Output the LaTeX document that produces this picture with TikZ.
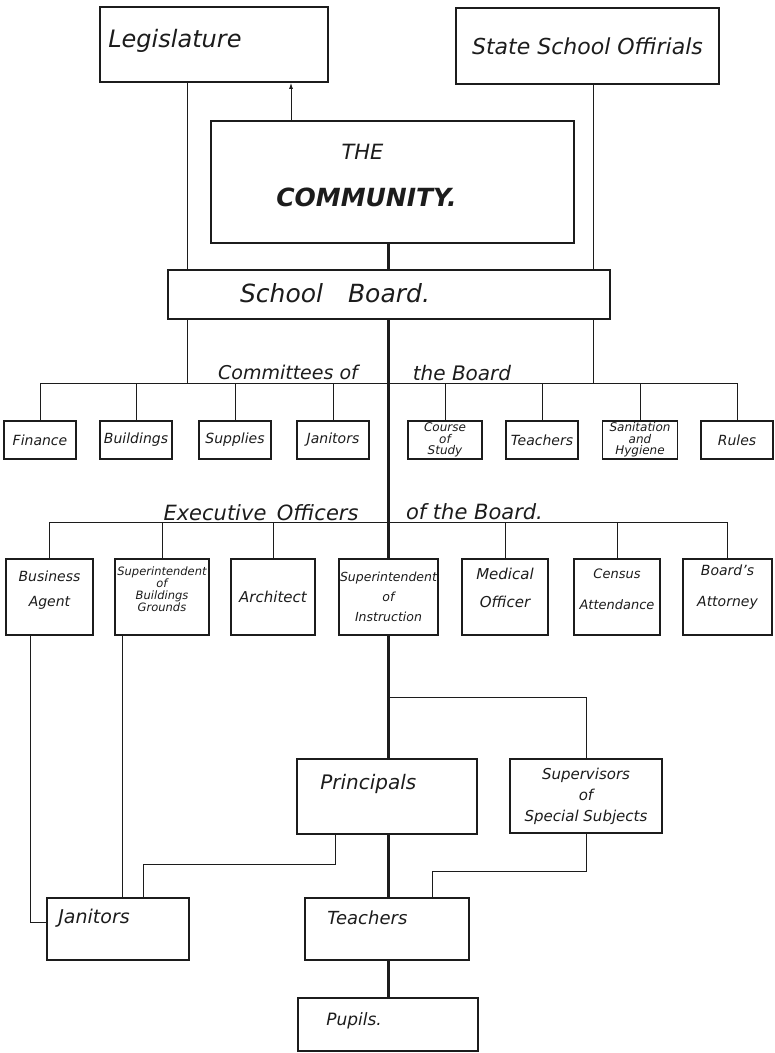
\documentclass[tikz,border=0pt]{standalone}
\usepackage{fontspec}
\setmainfont{DejaVu Sans}
\usetikzlibrary{positioning,arrows.meta,calc}
\definecolor{cInk}{HTML}{1C1C1C}
\newcommand{\hsz}[2]{\fontsize{#1}{#2}\selectfont}
\tikzset{
  base/.style ={draw=cInk, line width=1.7pt, inner sep=0pt, text=cInk},
  hand/.style ={font=\itshape, text=cInk, inner sep=0pt, align=center},
  cmt/.style  ={hand, font=\itshape\hsz{14}{16}},
  cmt3/.style ={hand, font=\itshape\hsz{12}{11.5}},
  wire/.style ={draw=cInk, line width=0.9pt},
  trunk/.style={draw=cInk, line width=2.5pt},
  arr/.style  ={wire, -{Latex[length=6pt,width=4pt]}},
}

\begin{document}
\begin{tikzpicture}[x=1pt, y=-1pt]
\useasboundingbox (0,0) rectangle (775,1053);

% state level and community
\node[base, minimum width=228pt, minimum height=75pt] (leg) at (214,44.5) {};
\node[hand, font=\itshape\hsz{24}{26}, anchor=west] (legt) at ([xshift=9pt, yshift=4pt]leg.west) {Legislature};
\node[base, hand, font=\itshape\hsz{22}{24}, minimum width=263pt, minimum height=76pt] (sso) at (587.5,46) {State School Offirials};
\node[base, minimum width=363pt, minimum height=122pt] (comm) at (392.5,182) {};
\node[hand, font=\itshape\hsz{21}{23}] (the) at ([xshift=-30pt, yshift=30pt]comm.center) {THE};
\node[hand, font=\bfseries\itshape\hsz{25}{27}] (commt) at ([xshift=-26pt, yshift=-15pt]comm.center) {COMMUNITY.};
\node[base, minimum width=442pt, minimum height=49pt] (sb) at (389,294.5) {};
\node[hand, font=\itshape\hsz{25}{27}] (sbt) at ([xshift=-54pt, yshift=1pt]sb.center) {School\quad Board.};

% bus lines
\coordinate (tx) at (388.5,0);
\coordinate (legdn) at (187,0);
\coordinate (legup) at (291,0);
\coordinate (ssodn) at (593,0);
\coordinate (cbus) at (0,383);
\coordinate (ebus) at (0,522);

% committees of the board
\node[hand, font=\itshape\hsz{19}{21}] (cmtl) at (288,372) {Committees of};
\node[hand, font=\itshape\hsz{20}{22}] (cmtr) at (462,373) {the Board};
\foreach \nm/\cx/\txt in {fin/40/Finance, bld/136/Buildings, sup/235/Supplies,
    jan/333/Janitors, tea/542/Teachers, rul/737/Rules}
  \node[base, cmt, minimum width=72pt, minimum height=38pt] (\nm) at (\cx,440) {\txt};
\node[base, cmt3, minimum width=74pt, minimum height=38pt] (cos) at (445,440) {Course\\of\\Study};
\node[base, cmt3, minimum width=75pt, minimum height=38pt] (san) at (640,440) {Sanitation\\and\\Hygiene};

% executive officers
\node[hand, font=\itshape\hsz{21}{23}] (exl) at (261,513) {Executive\enspace Officers};
\node[hand, font=\itshape\hsz{21}{23}] (exr) at (474.5,512) {of the Board.};
\node[base, minimum width=87pt, minimum height=76pt] (bag) at (49.5,597) {};
\node[hand, font=\itshape\hsz{14}{25}] (bagt) at ([yshift=7pt]bag.center) {Business\\Agent};
\node[base, minimum width=94pt, minimum height=76pt] (sbg) at (162,597) {};
\node[hand, font=\itshape\hsz{11.5}{12}] (sbgt) at ([yshift=7.5pt]sbg.center) {Superintendent\\of\\Buildings\\Grounds};
\node[base, hand, font=\itshape\hsz{15}{17}, minimum width=84pt, minimum height=76pt] (arc) at (273,597) {Architect};
\node[base, hand, font=\itshape\hsz{12.5}{20}, minimum width=99pt, minimum height=76pt] (sin) at (388.5,597) {Superintendent\\of\\Instruction};
\node[base, minimum width=86pt, minimum height=76pt] (med) at (505,597) {};
\node[hand, font=\itshape\hsz{15}{28}] (medt) at ([yshift=9pt]med.center) {Medical\\Officer};
\node[base, minimum width=86pt, minimum height=76pt] (cen) at (617,597) {};
\node[hand, font=\itshape\hsz{13}{31}] (cent) at ([yshift=7.5pt]cen.center) {Census\\Attendance};
\node[base, minimum width=89pt, minimum height=76pt] (att) at (727.5,597) {};
\node[hand, font=\itshape\hsz{14}{31}] (attt) at ([yshift=9.5pt]att.center) {Board's\\Attorney};

% schools
\node[base, minimum width=180pt, minimum height=75pt] (pri) at (387,796.5) {};
\node[hand, font=\itshape\hsz{20}{22}, anchor=west] (prit) at ([xshift=24pt, yshift=12.5pt]pri.west) {Principals};
\node[base, hand, font=\itshape\hsz{15}{21}, minimum width=152pt, minimum height=74pt] (spv) at (586,796) {Supervisors\\of\\Special Subjects};
\node[base, minimum width=142pt, minimum height=62pt] (jnt) at (118,929) {};
\node[hand, font=\itshape\hsz{19}{21}, anchor=west] (jntt) at ([xshift=12pt, yshift=11pt]jnt.west) {Janitors};
\node[base, minimum width=164pt, minimum height=62pt] (tch) at (387,929) {};
\node[hand, font=\itshape\hsz{18}{20}, anchor=west] (tcht) at ([xshift=23pt, yshift=11pt]tch.west) {Teachers};
\node[base, minimum width=180pt, minimum height=53pt] (pup) at (388,1024.5) {};
\node[hand, font=\itshape\hsz{17}{19}, anchor=west] (pupt) at ([xshift=29pt, yshift=3.5pt]pup.west) {Pupils.};

\coordinate (bagx) at (30,0);
\coordinate (sbgx) at (122,0);
\coordinate (prx) at (335,0);
\coordinate (jx) at (143,0);
\coordinate (jbus) at (0,864);
\coordinate (brc) at (0,697);
\coordinate (tbus) at (0,871);
\coordinate (tchx) at (432,0);

% connectors
\draw[arr] (comm.north -| legup) -- (leg.south -| legup);
\draw[wire] (leg.south -| legdn) -- (sb.north -| legdn);
\draw[wire] (sso.south -| ssodn) -- (sb.north -| ssodn);
\draw[trunk] (comm.south -| tx) -- (sb.north -| tx);
\draw[wire] (sb.south -| legdn) -- (cbus -| legdn);
\draw[wire] (sb.south -| ssodn) -- (cbus -| ssodn);
\draw[wire] (cbus -| fin) -- (cbus -| rul);
\foreach \nm in {fin,bld,sup,jan,cos,tea,san,rul}
  \draw[wire] (cbus -| \nm.north) -- (\nm.north);
\draw[trunk] (sb.south -| tx) -- (sin.north);
\draw[wire] (ebus -| bag) -- (ebus -| att);
\foreach \nm in {bag,sbg,arc,med,cen,att}
  \draw[wire] (ebus -| \nm.north) -- (\nm.north);
\draw[wire] (bag.south -| bagx) |- ([yshift=7pt]jnt.west);
\draw[wire] (sbg.south -| sbgx) -- (jnt.north -| sbgx);
\draw[wire] (pri.south -| prx) |- (jbus -| jx) -- (jnt.north -| jx);
\draw[trunk] (sin.south) -- (pri.north -| tx);
\draw[wire] (brc -| tx) -| (spv.north);
\draw[trunk] (pri.south -| tx) -- (tch.north -| tx);
\draw[wire] (spv.south) |- (tbus -| tchx) -- (tch.north -| tchx);
\draw[trunk] (tch.south -| tx) -- (pup.north -| tx);
\end{tikzpicture}
\end{document}
